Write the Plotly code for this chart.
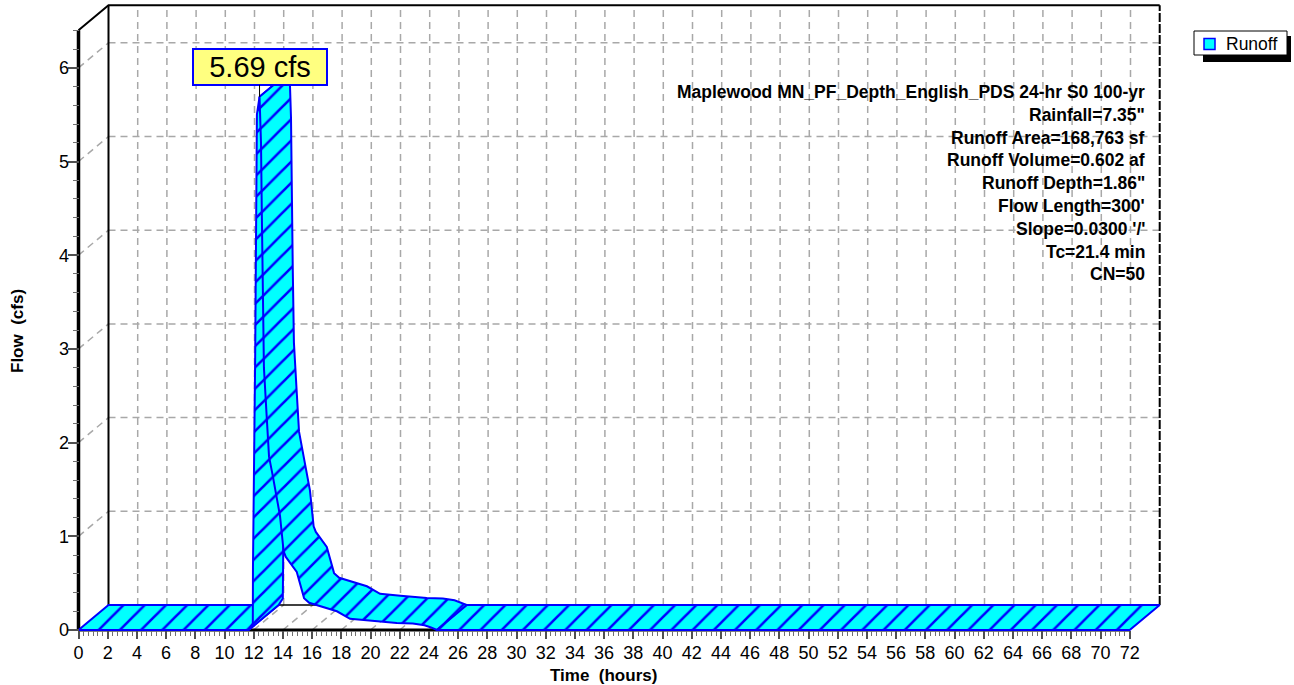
import numpy as np
import plotly.graph_objects as go

# ---------------- data ----------------
TIME_HR = [0.0, 11.65, 11.94, 11.95, 12.10, 12.22, 12.40, 12.50, 12.56, 12.62,
           12.70, 12.90, 13.05, 13.30, 13.80, 14.05, 14.20, 14.95, 15.30, 15.45,
           15.80, 17.30, 17.70, 18.60, 20.00, 21.80, 22.90, 23.70, 24.10, 24.55, 72.0]
FLOW_CFS = [0.0, 0.0, 0.07, 0.67, 2.90, 5.50, 5.69, 5.20, 4.40, 3.60,
            2.80, 2.25, 1.85, 1.65, 1.22, 0.84, 0.78, 0.62, 0.43, 0.34,
            0.29, 0.22, 0.20, 0.12, 0.10, 0.075, 0.07, 0.05, 0.03, 0.0, 0.0]
SERIES_NAME = "Runoff"
UNIT = "cfs"
X_TICK_VALUES = list(range(0, 73, 2))
Y_TICK_VALUES = [0, 1, 2, 3, 4, 5, 6]
X_TITLE = "Time\u00a0 (hours)"
Y_TITLE = "Flow\u00a0 (cfs)"
INFO_LINES = [
    "Maplewood MN_PF_Depth_English_PDS 24-hr S0 100-yr",
    "Rainfall=7.35\"",
    "Runoff Area=168,763 sf",
    "Runoff Volume=0.602 af",
    "Runoff Depth=1.86\"",
    "Flow Length=300'",
    "Slope=0.0300 '/'",
    "Tc=21.4 min",
    "CN=50",
]

# ---------------- geometry / style ----------------
FIG_W, FIG_H = 1294, 685
ML, MR, MT, MB = 71, 130, 0, 45
PW = FIG_W - ML - MR
PH = FIG_H - MT - MB
PX_PER_HR = 14.6
PX_PER_CFS = 93.7
X0_PX, Y0_PX = 78.5, 630
XMIN = -(X0_PX - ML) / PX_PER_HR
XMAX = XMIN + PW / PX_PER_HR
YMIN = -(FIG_H - MB - Y0_PX) / PX_PER_CFS
YMAX = YMIN + PH / PX_PER_CFS
DX = 30 / PX_PER_HR      # 3-D depth offset (hours)
DY = 25 / PX_PER_CFS     # 3-D depth offset (cfs)
X_END = X_TICK_VALUES[-1]
Y_TOP = 6.4
FONT = "Arial, Liberation Sans, sans-serif"
CYAN, BLUE = "#00FFFF", "#0000FF"


def px_x(px):
    return (px - ML) / PW


def px_y(py):
    return (FIG_H - MB - py) / PH


fig = go.Figure()

# ---- grid (dashed) on back wall, side wall and floor ----
gx, gy = [], []
for v in Y_TICK_VALUES[1:]:
    gx += [DX, X_END + DX, None, 0, DX, None]
    gy += [v + DY, v + DY, None, v, v + DY, None]
for x in X_TICK_VALUES[1:-1]:
    gx += [x + DX, x + DX, None, x, x + DX, None]
    gy += [DY, Y_TOP + DY, None, 0, DY, None]
fig.add_trace(go.Scatter(x=gx, y=gy, mode="lines", hoverinfo="skip",
                         line=dict(color="#A8A8A8", width=1.5, dash="7px,5px"),
                         showlegend=False))


def add_line(xs, ys, color="black", width=2, dash="solid"):
    fig.add_trace(go.Scatter(x=xs, y=ys, mode="lines", hoverinfo="skip",
                             line=dict(color=color, width=width, dash=dash),
                             showlegend=False))


add_line([DX, X_END + DX], [DY, DY], width=1.5)                          # back floor
add_line([0, DX, X_END + DX], [Y_TOP, Y_TOP + DY, Y_TOP + DY], width=2)  # top edge
add_line([DX, DX], [DY, Y_TOP + DY], width=2)                            # back-left
add_line([X_END + DX, X_END + DX], [DY, Y_TOP + DY], width=2, dash="9px,2px")
add_line([0, X_END], [0, 0], width=3)                                     # front floor
add_line([0, 0], [0, Y_TOP], width=3.5)                                   # y axis

# ---- 3-D ribbon of the hydrograph, split into monotone runs ----
signs = np.sign(np.diff(FLOW_CFS))
runs, start = [], 0
for i in range(1, len(signs)):
    if signs[i] != signs[start]:
        runs.append((start, i))
        start = i
runs.append((start, len(signs)))

for a, b in runs:
    fx = TIME_HR[a:b + 1]
    fy = FLOW_CFS[a:b + 1]
    px = list(fx) + [x + DX for x in reversed(fx)] + [fx[0]]
    py = list(fy) + [y + DY for y in reversed(fy)] + [fy[0]]
    fig.add_trace(go.Scatter(
        x=px, y=py, mode="lines", fill="toself", hoverinfo="skip",
        fillcolor=CYAN, line=dict(color=BLUE, width=2),
        fillpattern=dict(shape="/", fgcolor=BLUE, bgcolor=CYAN, size=15,
                         solidity=0.17, fgopacity=1),
        name=SERIES_NAME, showlegend=False))

# ---- peak label ----
ipk = int(np.argmax(FLOW_CFS))
annotations = [dict(
    x=TIME_HR[ipk], y=FLOW_CFS[ipk], xref="x", yref="y",
    text=f"{FLOW_CFS[ipk]:.2f} {UNIT}", showarrow=True, arrowhead=0,
    arrowwidth=1, arrowcolor="black", ax=0, ay=-30, standoff=0,
    bgcolor="#FFFF80", bordercolor=BLUE, borderwidth=2, borderpad=1,
    width=130, height=32, font=dict(family=FONT, size=29, color="black"))]

# ---- info text block ----
for k, line in enumerate(INFO_LINES):
    annotations.append(dict(
        x=px_x(1147), y=px_y(92 + k * 22.8), xref="paper", yref="paper",
        text=f"<b>{line}</b>", showarrow=False, xanchor="right",
        yanchor="middle", font=dict(family=FONT, size=17.5, color="black")))

# ---- axis titles ----
annotations.append(dict(x=px_x(603), y=px_y(675), xref="paper", yref="paper",
                        text=f"<b>{X_TITLE}</b>", showarrow=False,
                        xanchor="center", yanchor="middle",
                        font=dict(family=FONT, size=17, color="black")))
annotations.append(dict(x=px_x(17), y=px_y(331), xref="paper", yref="paper",
                        text=f"<b>{Y_TITLE}</b>", showarrow=False, textangle=-90,
                        xanchor="center", yanchor="middle",
                        font=dict(family=FONT, size=17, color="black")))

# ---- legend (drawn) ----
shapes = [
    dict(type="rect", xref="paper", yref="paper", x0=px_x(1203), x1=px_x(1291),
         y0=px_y(62), y1=px_y(36), fillcolor="black", line=dict(width=0)),
    dict(type="rect", xref="paper", yref="paper", x0=px_x(1194), x1=px_x(1287),
         y0=px_y(55), y1=px_y(31), fillcolor="white",
         line=dict(color="black", width=1)),
    dict(type="rect", xref="paper", yref="paper", x0=px_x(1204), x1=px_x(1215),
         y0=px_y(49.5), y1=px_y(38.5), fillcolor=CYAN,
         line=dict(color=BLUE, width=1.5)),
]
annotations.append(dict(x=px_x(1224), y=px_y(43.5), xref="paper", yref="paper",
                        text=SERIES_NAME, showarrow=False, xanchor="left",
                        yanchor="middle",
                        font=dict(family=FONT, size=17.5, color="black")))

x_minor = [k / 3 for k in range(0, X_END * 3 + 1) if k % 6 != 0]
y_minor = [k / 5 for k in range(0, int(Y_TOP * 5) + 1) if k % 5 != 0]

fig.update_layout(
    width=FIG_W, height=FIG_H,
    margin=dict(l=ML, r=MR, t=MT, b=MB, autoexpand=False),
    paper_bgcolor="white", plot_bgcolor="white",
    showlegend=False,
    font=dict(family=FONT, color="black"),
    xaxis=dict(range=[XMIN, XMAX], domain=[0, 1], anchor="free",
               position=(0 - YMIN) / (YMAX - YMIN),
               tickvals=X_TICK_VALUES, ticktext=[str(v) for v in X_TICK_VALUES],
               ticks="outside", ticklen=8, tickwidth=1.5, tickcolor="#505050",
               ticklabelstandoff=-2,
               tickfont=dict(family=FONT, size=18, color="black"),
               showgrid=False, zeroline=False, showline=False, fixedrange=True,
               minor=dict(tickvals=x_minor, ticks="outside", ticklen=5,
                          tickwidth=1, tickcolor="#707070", showgrid=False)),
    yaxis=dict(range=[YMIN, YMAX], domain=[0, 1], anchor="free",
               position=(0 - XMIN) / (XMAX - XMIN),
               tickvals=Y_TICK_VALUES, ticktext=[str(v) for v in Y_TICK_VALUES],
               ticks="outside", ticklen=11, tickwidth=1.5, tickcolor="#505050",
               ticklabelstandoff=-5,
               tickfont=dict(family=FONT, size=18, color="black"),
               showgrid=False, zeroline=False, showline=False, fixedrange=True,
               minor=dict(tickvals=y_minor, ticks="outside", ticklen=6,
                          tickwidth=1, tickcolor="#707070", showgrid=False)),
    annotations=annotations,
    shapes=shapes,
)

fig.write_html("out.html",
               config={"displayModeBar": False},
               post_script="document.body.style.margin='0px';"
                           "document.body.style.overflow='hidden';")
